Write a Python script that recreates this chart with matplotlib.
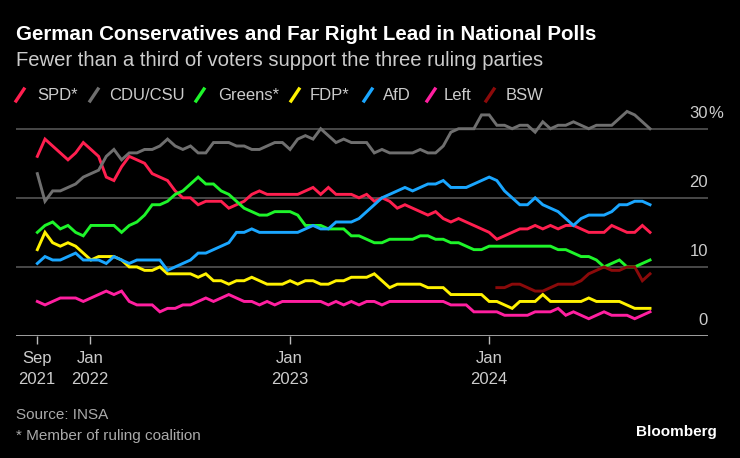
import matplotlib
matplotlib.use('Agg')
import matplotlib.pyplot as plt
import matplotlib.transforms as mtransforms
from matplotlib.lines import Line2D
import numpy as np
import pandas as pd

plt.rcParams['font.family'] = ['Liberation Sans', 'DejaVu Sans']

# INSA polls, every two weeks
dates = pd.date_range('2021-09-27', periods=81, freq='14D')

spd = [26, 28.5, 27.5, 26.5, 25.5, 26.5, 28, 27, 26, 23, 22.5, 24.5, 26, 25.5, 25, 23.5, 23,
       22.5, 21, 20, 20, 19, 19.5, 19.5, 19.5, 18.5, 19, 19.5, 20.5, 21, 20.5, 20.5,
       20.5, 20.5, 20.5, 21, 21.5, 20.5, 21.5, 20.5, 20.5, 20.5, 20, 20.5, 19.5, 20, 19.5, 18.5,
       19, 18.5, 18, 17.5, 18, 17, 16.5, 17, 16.5, 16, 15.5, 15, 14, 14.5, 15, 15.5,
       15.5, 16, 15.5, 16, 15.5, 16, 16, 15.5, 15, 15, 15, 16, 15.5, 15, 15, 16, 15]
cdu = [23.5, 19.5, 21, 21, 21.5, 22, 23, 23.5, 24, 26, 27, 25.5, 26.5, 26.5, 27, 27, 27.5,
       28.5, 27.5, 27, 27.5, 26.5, 26.5, 28, 28, 28, 27.5, 27.5, 27, 27, 27.5, 28,
       28, 27, 28.5, 29, 28.5, 30, 29, 28, 28.5, 28, 28, 28, 26.5, 27, 26.5, 26.5,
       26.5, 26.5, 27, 26.5, 26.5, 27.5, 29.5, 30, 30, 30, 32, 32, 30.5, 30.5, 30, 30.5,
       30.5, 29.5, 31, 30, 30.5, 30.5, 31, 30.5, 30, 30.5, 30.5, 30.5, 31.5, 32.5, 32, 31, 30]
greens = [15, 16, 16.5, 15.5, 16, 15, 14.5, 16, 16, 16, 16, 15, 16, 16.5, 17.5, 19, 19,
          19.5, 20.5, 21, 22, 23, 22, 22, 21, 20.5, 19.5, 18.5, 18, 17.5, 17.5, 18,
          18, 18, 17.5, 16, 16, 16, 15.5, 15.5, 15.5, 14.5, 14.5, 14, 13.5, 13.5, 14, 14,
          14, 14, 14.5, 14.5, 14, 14, 13.5, 13.5, 13, 12.5, 12.5, 13, 13, 13, 13, 13,
          13, 13, 13, 13, 12.5, 12.5, 12, 11.5, 11.5, 11, 10, 10.5, 11, 10, 10, 10.5, 11]
fdp = [12.5, 15, 13.5, 13, 13.5, 13, 12, 11, 11.5, 11.5, 11.5, 11, 10, 10, 9.5, 9.5, 10,
       9, 9, 9, 9, 8.5, 9, 8, 8, 7.5, 8, 8, 8.5, 8, 7.5, 7.5,
       7.5, 8, 7.5, 8, 8, 7.5, 7.5, 8, 8, 8.5, 8.5, 8.5, 9, 8, 7, 7.5,
       7.5, 7.5, 7.5, 7, 7, 7, 6, 6, 6, 6, 6, 5, 5, 4.5, 4, 5,
       5, 5, 6, 5, 5, 5, 5, 5, 5.5, 5, 5, 5, 5, 4.5, 4, 4, 4]
afd = [10.5, 11.5, 11, 11, 11.5, 12, 11, 11, 11, 10.5, 11.5, 11, 10.5, 11, 11, 11, 11,
       9.5, 10, 10.5, 11, 12, 12, 12.5, 13, 13.5, 15, 15, 15.5, 15, 15, 15,
       15, 15, 15, 15.5, 16, 15.5, 15.5, 16.5, 16.5, 16.5, 17, 18, 19, 20, 20.5, 21,
       21.5, 21, 21.5, 22, 22, 22.5, 21.5, 21.5, 21.5, 22, 22.5, 23, 22.5, 21, 20, 19,
       19, 20, 19, 18.5, 18, 17, 16, 17, 17.5, 17.5, 17.5, 18, 19, 19, 19.5, 19.5, 19]
left = [5, 4.5, 5, 5.5, 5.5, 5.5, 5, 5.5, 6, 6.5, 6, 6.5, 5, 4.5, 4.5, 4.5, 3.5,
        4, 4, 4.5, 4.5, 5, 5.5, 5, 5.5, 6, 5.5, 5, 5, 4.5, 5, 4.5,
        5, 5, 5, 5, 5, 5, 4.5, 5, 4.5, 5, 4.5, 5, 5, 4.5, 5, 5,
        5, 5, 5, 5, 5, 5, 4.5, 4.5, 4.5, 3.5, 3.5, 3.5, 3.5, 3, 3, 3,
        3, 3.5, 3.5, 3.5, 4, 3, 3.5, 3, 2.5, 3, 3.5, 3, 3, 3, 2.5, 3, 3.5]
bsw = [np.nan] * 60 + [7, 7, 7.5, 7.5,
                       7, 6.5, 6.5, 7, 7.5, 7.5, 7.5, 8, 9, 9.5, 10, 9.5, 9.5, 10, 10, 8, 9]

labels = ['SPD*', 'CDU/CSU', 'Greens*', 'FDP*', 'AfD', 'Left', 'BSW']
series = [spd, cdu, greens, fdp, afd, left, bsw]
colors = ['#ff1f4f', '#6f6f6f', '#1ef52a', '#fff200', '#1aa6ff', '#ff1fa0', '#8b0a0a']

tick_dates = pd.to_datetime(['2021-09-26', '2022-01-01', '2023-01-01', '2024-01-01'])
tick_labels = ['Sep\n2021', 'Jan\n2022', 'Jan\n2023', 'Jan\n2024']
y_ticks = [0, 10, 20, 30]

W, H = 740, 458
fig = plt.figure(figsize=(W / 100, H / 100), dpi=100, facecolor='black')
ax = fig.add_axes([16 / W, 122 / H, 692 / W, 228 / H])
ax.set_facecolor('black')

for y in y_ticks[1:]:
    ax.axhline(y, color='#555555', lw=1.2, zorder=0)
ax.axhline(0, color='#bbbbbb', lw=1.2, zorder=0)

for vals, c in zip(series, colors):
    ax.plot(dates, vals, color=c, lw=2.1, solid_joinstyle='miter', clip_on=False)

ax.set_ylim(0, 33)
ax.set_xlim(pd.Timestamp('2021-08-19'), pd.Timestamp('2025-02-04'))
for s in ax.spines.values():
    s.set_visible(False)
ax.set_yticks([])
ax.set_xticks(tick_dates)
ax.set_xticklabels(tick_labels, linespacing=1.45)
ax.tick_params(axis='x', length=6, width=1, color='#bbbbbb', labelcolor='#cccccc',
               labelsize=12, pad=5)

# right-side value labels sitting above the gridlines
trans = mtransforms.blended_transform_factory(ax.transAxes, ax.transData)
for y in y_ticks:
    ax.annotate(str(y), xy=(1, y), xycoords=trans, xytext=(0, 5.5), textcoords='offset points',
                ha='right', va='bottom', color='#cccccc', fontsize=12)
ax.annotate('%', xy=(1, 30), xycoords=trans, xytext=(0.5, 5.5), textcoords='offset points',
            ha='left', va='bottom', color='#cccccc', fontsize=12)

# header
fig.text(16 / W, 1 - 35 / H, 'German Conservatives and Far Right Lead in National Polls',
         color='white', fontsize=14.8, fontweight='bold', va='center')
fig.text(16 / W, 1 - 61 / H, 'Fewer than a third of voters support the three ruling parties',
         color='#cccccc', fontsize=14.6, va='center')

# legend with slanted strokes
mark_x = [16, 90, 196, 291, 364, 427, 486]
text_x = [37, 109, 218, 310, 383, 444, 506]
ly = 95
for lab, c, mx, tx in zip(labels, colors, mark_x, text_x):
    fig.add_artist(Line2D([mx / W, (mx + 8) / W], [1 - (ly + 6) / H, 1 - (ly - 6) / H],
                          color=c, lw=2.4, transform=fig.transFigure))
    fig.text(tx / W, 1 - ly / H, lab, color='#cccccc', fontsize=12, va='center')

# footer
fig.text(16 / W, 1 - 415 / H, 'Source: INSA', color='#aaaaaa', fontsize=11, va='center')
fig.text(16 / W, 1 - 436 / H, '* Member of ruling coalition', color='#aaaaaa', fontsize=11,
         va='center')
fig.text(717 / W, 1 - 432 / H, 'Bloomberg', color='white', fontsize=11, fontweight='bold',
         ha='right', va='center')

fig.savefig('out.png', dpi=100, facecolor='black')
